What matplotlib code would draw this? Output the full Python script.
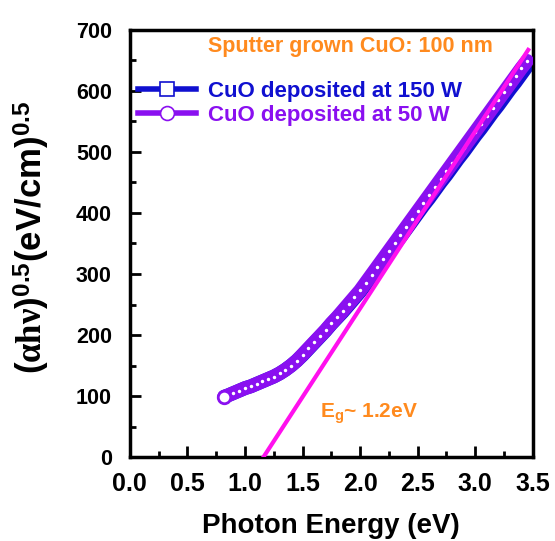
import matplotlib.pyplot as plt
from matplotlib.ticker import MultipleLocator

plt.rcParams['font.family'] = ['Liberation Sans', 'DejaVu Sans']
plt.rcParams['font.weight'] = 'bold'
plt.rcParams['mathtext.fontset'] = 'custom'
plt.rcParams['mathtext.rm'] = 'Liberation Sans:bold'
plt.rcParams['mathtext.bf'] = 'Liberation Sans:bold'
plt.rcParams['mathtext.it'] = 'Liberation Serif'

# photon energy (eV)
energy = [0.82, 0.85, 0.90, 0.95, 1.00, 1.05, 1.10, 1.15, 1.20, 1.25, 1.30, 1.35,
          1.40, 1.45, 1.50, 1.55, 1.60, 1.65, 1.70, 1.75, 1.80, 1.85, 1.90, 1.95,
          2.00, 2.05, 2.10, 2.15, 2.20, 2.25, 2.30, 2.35, 2.40, 2.45, 2.50, 2.55,
          2.60, 2.65, 2.70, 2.75, 2.80, 2.85, 2.90, 2.95, 3.00, 3.05, 3.10, 3.15,
          3.20, 3.25, 3.30, 3.35, 3.40, 3.45]

# (alpha h nu)^0.5, 50 W film
tauc_50w = [99, 101, 105, 109, 113, 116, 120, 124, 128, 132, 137, 143,
            150, 158, 168, 178, 188, 198, 208, 219, 229, 240, 251, 262,
            273, 286, 299, 312, 325, 338, 351, 364, 377, 390, 403, 416,
            429, 442, 455, 468, 481, 494, 507, 520, 533, 546, 559, 572,
            585, 598, 611, 624, 637, 649]

# (alpha h nu)^0.5, 150 W film
tauc_150w = [99, 101, 105, 109, 113, 116, 120, 124, 128, 132, 137, 143,
             150, 158, 167, 177, 187, 197, 207, 218, 228, 238, 249, 260,
             271, 283, 296, 309, 322, 335, 348, 360, 373, 386, 399, 412,
             424, 437, 450, 462, 475, 488, 500, 513, 526, 538, 551, 564,
             576, 589, 602, 614, 627, 640]

# linear extrapolation for the band gap
fit_x = [1.16, 3.46]
fit_y = [0, 667]

orange = '#ff8a1e'
blue = '#1010d0'
purple = '#8a10f0'
magenta = '#ff10ee'

fig = plt.figure(figsize=(5.55, 5.41), dpi=100)
ax = fig.add_axes([0.234, 0.155, 0.726, 0.79])

ax.plot(energy, tauc_150w, color=blue, lw=10, marker='s', ms=4, mew=1.5,
        mfc='white', solid_capstyle='round', zorder=2)
ax.plot(energy, tauc_50w, color=purple, lw=10, marker='o', ms=4, mew=1.5,
        mfc='white', solid_capstyle='round', zorder=3)
ax.plot(energy[:1], tauc_50w[:1], color=purple, lw=0, marker='o', ms=9,
        mew=2, mfc='white', zorder=3)
ax.plot(fit_x, fit_y, color=magenta, lw=3, zorder=4)

# legend handles
h1, = ax.plot([], [], color=blue, lw=4, marker='s', ms=10, mew=1.2, mfc='white')
h2, = ax.plot([], [], color=purple, lw=4, marker='o', ms=10, mew=1.2, mfc='white')
leg = ax.legend([h1, h2], ['CuO deposited at 150 W', 'CuO deposited at 50 W'],
                loc='upper left', bbox_to_anchor=(0.02, 0.88), frameon=False,
                fontsize=16, handlelength=2.6, handletextpad=0.55,
                labelspacing=0.12, numpoints=1, borderaxespad=0, borderpad=0)
for t, c in zip(leg.get_texts(), [blue, purple]):
    t.set_color(c)

ax.text(0.68, 672, 'Sputter grown CuO: 100 nm', color=orange, fontsize=15.5,
        fontweight='bold', ha='left', va='center')
ax.text(1.65, 64, r'E$_{\mathrm{g}}$~ 1.2eV', color=orange, fontsize=15,
        fontweight='bold', va='baseline')

ax.set_xlim(0, 3.5)
ax.set_ylim(0, 700)
ax.xaxis.set_major_locator(MultipleLocator(0.5))
ax.xaxis.set_minor_locator(MultipleLocator(0.25))
ax.yaxis.set_major_locator(MultipleLocator(100))
ax.yaxis.set_minor_locator(MultipleLocator(50))
ax.tick_params(which='both', direction='in', width=2)
ax.tick_params(which='major', length=8)
ax.tick_params(which='minor', length=4)
ax.tick_params(axis='y', pad=13, labelsize=15.5)
ax.tick_params(axis='x', pad=11, labelsize=18)
for lab in ax.get_xticklabels() + ax.get_yticklabels():
    lab.set_fontweight('bold')
for sp in ax.spines.values():
    sp.set_linewidth(2.5)

ax.set_xlabel('Photon Energy (eV)', fontsize=20, fontweight='bold')
ax.xaxis.set_label_coords(0.5, -0.13)
ax.set_ylabel(r'$(\alpha h\nu)^{0.5}(\mathrm{eV/cm})^{0.5}$', fontsize=25)
ax.yaxis.set_label_coords(-0.193, 0.515)

fig.savefig('out.png', dpi=100)
